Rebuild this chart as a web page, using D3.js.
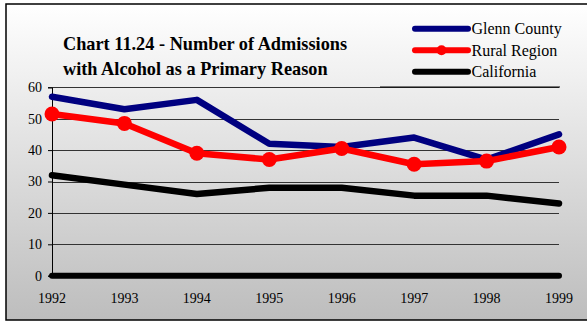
<!DOCTYPE html>
<html><head><meta charset="utf-8">
<script src="https://cdn.jsdelivr.net/npm/d3@7"></script>
<style>html,body{margin:0;padding:0;background:#fff;}svg{display:block;}</style>
</head><body>
<script>
const years = ["1992","1993","1994","1995","1996","1997","1998","1999"];
const glenn = [57, 53, 56, 42, 41, 44, 37, 45];
const rural = [51.5, 48.5, 39, 37, 40.5, 35.5, 36.5, 41];
const california = [32, 29, 26, 28, 28, 25.5, 25.5, 23];
const yTicks = [0, 10, 20, 30, 40, 50, 60];
const seriesNames = ["Glenn County", "Rural Region", "California"];
const seriesColors = ["#000080", "#ff0000", "#000000"];

const W = 587, H = 322;
const svg = d3.select("body").append("svg").attr("width", W).attr("height", H);
const defs = svg.append("defs");
const grad = defs.append("linearGradient").attr("id","bg").attr("x1",0).attr("y1",0).attr("x2",0).attr("y2",1);
grad.append("stop").attr("offset","0%").attr("stop-color","#ffffff");
grad.append("stop").attr("offset","100%").attr("stop-color","#bdbdbd");

svg.append("rect").attr("x",6).attr("y",4).attr("width",W).attr("height",316)
  .attr("fill","url(#bg)").attr("stroke","#000").attr("stroke-width",1.5);

const x = d3.scalePoint().domain(years).range([52, 559]);
const y = d3.scaleLinear().domain([0, 60]).range([275.7, 87.3]);

// gridlines
svg.append("g").selectAll("line").data(yTicks.filter(d=>d>0)).join("line")
  .attr("x1", x(years[0])).attr("x2", x(years[years.length-1]))
  .attr("y1", d=>Math.round(y(d))+0.5).attr("y2", d=>Math.round(y(d))+0.5)
  .attr("stroke","#333").attr("stroke-width",1);

// y axis
const yAxis = d3.axisLeft(y).tickValues(yTicks).tickSize(4).tickPadding(6);
const ga = svg.append("g").attr("transform",`translate(${x(years[0])},0)`).call(yAxis);
ga.select(".domain").attr("stroke","#000");
ga.selectAll("text").attr("font-family","Liberation Serif, serif").attr("font-size",14).attr("fill","#000");

// baseline at zero
svg.append("line").attr("x1", x(years[0])).attr("x2", x(years[years.length-1]))
  .attr("y1", y(0)).attr("y2", y(0)).attr("stroke","#000").attr("stroke-width",6).attr("stroke-linecap","round");

// x labels
svg.append("g").selectAll("text").data(years).join("text")
  .attr("x", d=>x(d)).attr("y", 303).attr("text-anchor","middle")
  .attr("font-family","Liberation Serif, serif").attr("font-size",14).text(d=>d);

const line = d3.line().x((d,i)=>x(years[i])).y(d=>y(d));
const data = [glenn, rural, california];
[2,0,1].forEach(k=>{
  svg.append("path").attr("d", line(data[k])).attr("fill","none")
    .attr("stroke", seriesColors[k]).attr("stroke-width",6.5)
    .attr("stroke-linejoin","round").attr("stroke-linecap","round");
});
svg.append("g").selectAll("circle").data(rural).join("circle")
  .attr("cx",(d,i)=>x(years[i])).attr("cy",d=>y(d)).attr("r",7.5).attr("fill","#ff0000");

// title
const title = svg.append("text").attr("font-family","Liberation Serif, serif").attr("font-weight","bold").attr("font-size",18.3).attr("fill","#000");
title.append("tspan").attr("x",63).attr("y",50).text("Chart 11.24 - Number of Admissions");
title.append("tspan").attr("x",63).attr("y",75).text("with Alcohol as a Primary Reason");

// legend
svg.append("line").attr("x1",380).attr("x2",560).attr("y1",87).attr("y2",87).attr("stroke","#000").attr("stroke-width",1);
const lg = svg.append("g");
seriesNames.forEach((n,i)=>{
  const yy = 28.7 + i*21.5;
  lg.append("line").attr("x1",415).attr("x2",468).attr("y1",yy).attr("y2",yy)
    .attr("stroke",seriesColors[i]).attr("stroke-width",6).attr("stroke-linecap","round");
  if(i===1) lg.append("circle").attr("cx",441.5).attr("cy",yy).attr("r",5).attr("fill",seriesColors[i]);
  lg.append("text").attr("x",471.5).attr("y",yy+5.5).attr("font-family","Liberation Serif, serif").attr("font-size",16).text(n);
});
</script>
</body></html>
